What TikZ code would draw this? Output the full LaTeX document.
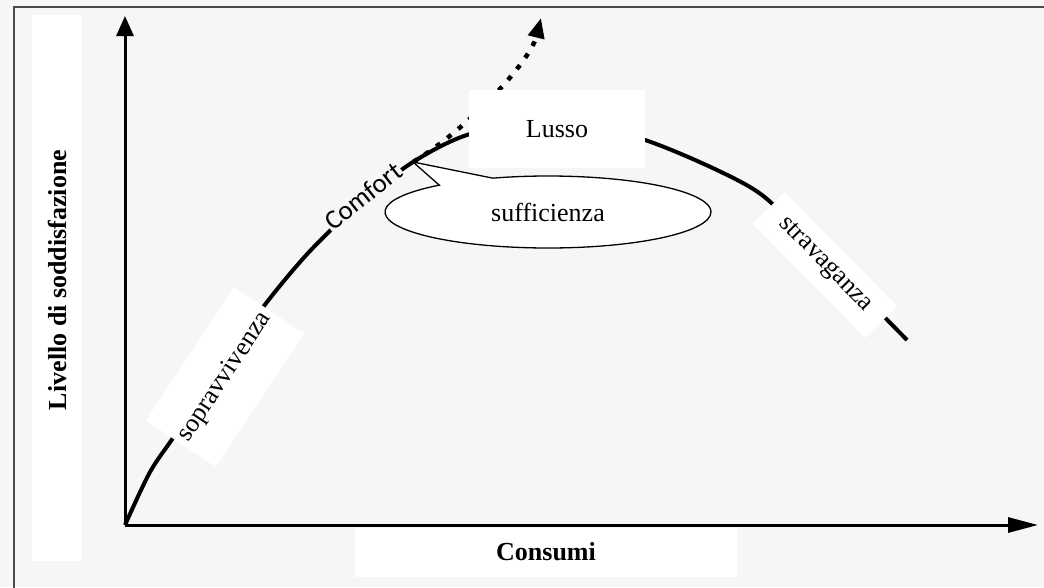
\documentclass[tikz,border=0pt]{standalone}
\usepackage{fontspec}
\setmainfont{Liberation Serif}
\newfontfamily\comfortfont{Carlito}
\usetikzlibrary{arrows.meta,positioning,shapes.geometric,shapes.callouts}
\definecolor{pagebg}{HTML}{F6F6F6}
\definecolor{framegray}{HTML}{4A4A4A}
\tikzset{
  lbox/.style={fill=white, inner sep=2pt, align=center, font=\fontsize{26}{30}\selectfont},
  blabel/.style={fill=white, inner sep=2pt, align=center, font=\fontsize{26}{30}\selectfont\bfseries},
  axisline/.style={line width=3pt},
  curveline/.style={line width=4pt},
  dotline/.style={line width=4.5pt, dash pattern=on 5pt off 9pt, -{Triangle[length=20pt,width=16pt]}},
  bubble/.style={ellipse callout, draw, line width=1.3pt, fill=white, inner sep=0pt, font=\fontsize{26}{30}\selectfont},
  curvetag/.style={fill=pagebg, inner sep=1pt, font=\comfortfont\fontsize{27}{30}\selectfont}
}

\begin{document}
\begin{tikzpicture}[x=1pt,y=-1pt]
\fill[pagebg] (0,0) rectangle (1044,587);
\useasboundingbox (0,0) rectangle (1044,587);
\draw[framegray, line width=2pt] (14,590) -- (14,7) -- (1050,7);
% axes
\coordinate (origin) at (125,525);
\coordinate (ytop) at (125,16);
\coordinate (xend) at (1038,525);
\draw[axisline, -{Triangle[length=20pt,width=17pt]}] (origin) -- (ytop);
\draw[axisline, -{Triangle[length=30pt,width=15pt]}] (origin) -- (xend);
% satisfaction curve
\draw[curveline] plot[smooth, tension=0.5] coordinates {(125,525) (150,472) (175,435) (220,367) (267,302) (310,251) (360,203) (413,162) (470,134) (550,121) (645,140) (750,187) (800,232) (907,340)};
\coordinate (fork) at (413,162);
\coordinate (gotop) at (541,18);
\draw[dotline] (fork) .. controls (468,129) and (530,62) .. (gotop);
% labels
\node[lbox, minimum width=50pt, minimum height=546pt] (ybox) at (57,288) {};
\node[blabel, rotate=90, fill=none] (ylabel) at (57,280) {Livello di soddisfazione};
\node[blabel, minimum width=382pt, minimum height=49pt] (xlabel) at (546,552) {Consumi};
\node[lbox, rotate=56.5, minimum width=160pt, minimum height=84pt] (sopra) at (225,377) {sopravvivenza};
\node[curvetag, rotate=38] (comfort) at (363,196) {Comfort};
\node[lbox, minimum width=176pt, minimum height=78pt] (lusso) at (557,129) {Lusso};
\node[bubble, minimum width=326pt, minimum height=72pt, callout absolute pointer={(fork)}, callout pointer arc=22] (suff) at (548,212) {sufficienza};
\node[lbox, rotate=-45.5, minimum width=160pt, minimum height=45pt] (strava) at (825,265) {stravaganza};
\end{tikzpicture}
\end{document}
